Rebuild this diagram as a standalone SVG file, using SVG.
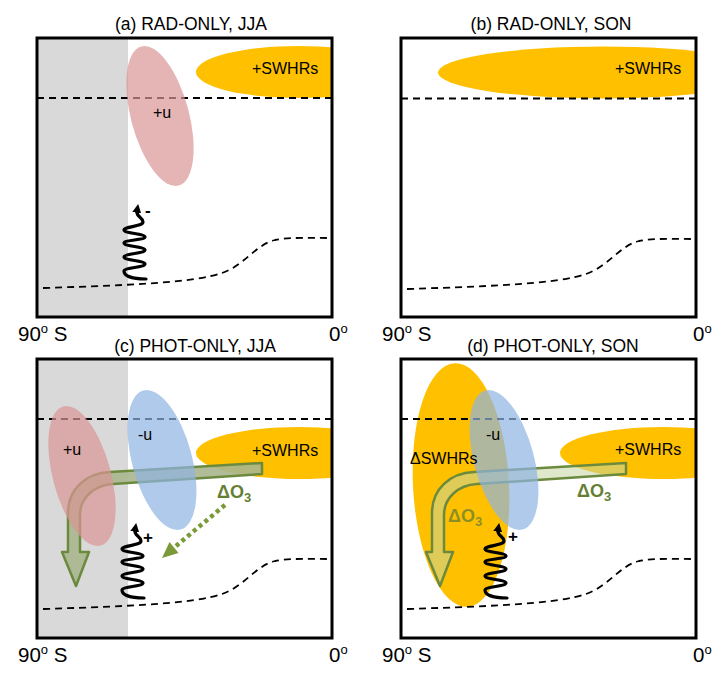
<svg xmlns="http://www.w3.org/2000/svg" width="728" height="676" viewBox="0 0 728 676">
<defs>
<style>
text{font-family:"Liberation Sans",Arial,sans-serif;fill:#000}
.title{font-size:17.5px;text-anchor:middle}
.axis{font-size:20.5px}
.sup{font-size:13px}
.lbl{font-size:16px}
.sign{font-size:17px;font-weight:bold}
.frame{fill:none;stroke:#000;stroke-width:3}
.dash{fill:none;stroke:#000;stroke-width:1.8;stroke-dasharray:7 5}
.gray{fill:#d9d9d9}
.orange{fill:#ffc000}
.pink{fill:#d99694;fill-opacity:0.7}
.blue{fill:#8eb4e3;fill-opacity:0.7}
.wave{fill:none;stroke:#000;stroke-width:3.2;stroke-linecap:round;stroke-linejoin:round}
.o3{font-size:18px;font-weight:bold;fill:#647f32}
.o3s{font-size:13px}
.bandc{fill:#a9b68e;fill-opacity:0.9;stroke:#6b8a3e;stroke-width:2.5;stroke-linejoin:round}
.bandd{fill:#c4d6a0;fill-opacity:0.55;stroke:#6b8a3e;stroke-width:2.5;stroke-linejoin:round}
.dots{fill:none;stroke:#7a9a3a;stroke-width:4.5;stroke-dasharray:4 3.5}
</style>
<clipPath id="clip"><rect x="37" y="38" width="295" height="279"/></clipPath>
<marker id="ah" markerUnits="userSpaceOnUse" markerWidth="9" markerHeight="9" viewBox="0 0 10 10" refX="2" refY="5" orient="auto"><path d="M0,0 L10,5 L0,10 Z" fill="#000"/></marker>
<path id="lowdash" d="M 43 288 C 140 285, 195 282, 222 273 C 245 265, 255 245, 275 240 C 290 237, 310 238, 332 238"/>
<path id="wave" marker-end="url(#ah)" d="M 146 279 C 132 279, 124 276, 124 271 C 124 267.5, 145 267.5, 145 264 C 145 260.5, 124 260.5, 124 257 C 124 253.5, 145 253.5, 145 250 C 145 246.5, 124 246.5, 124 243 C 124 240, 145 240, 145 237 C 145 233.5, 124 233.5, 124 230 C 124 226.5, 143 226.5, 143 222 C 143 217, 136 217, 137 211"/>
<path id="band" d="M 262 142 L 110 151 C 86 152, 68 168, 68 192 L 68 231 L 62 231 L 76 265 L 89 231 L 80 231 L 80 194 C 80 177, 94 164, 113 163 L 262 153 Z"/>
</defs>
<rect width="728" height="676" fill="#fff"/>

<!-- Panel (a) -->
<g id="panel-a">
  <text class="title" x="191" y="30">(a) RAD-ONLY, JJA</text>
  <rect id="a-polar-night" class="gray" x="37" y="38" width="91" height="279"/>
  <g id="a-swhrs"><ellipse class="orange" cx="299" cy="72" rx="103" ry="26" clip-path="url(#clip)"/><text class="lbl" x="252" y="74">+SWHRs</text></g>
  <path class="dash" d="M 37 98 H 332"/>
  <use href="#lowdash" class="dash"/>
  <g id="a-u"><ellipse class="pink" cx="160" cy="116" rx="29" ry="72" transform="rotate(-15 160 116)"/><text class="lbl" x="153" y="118">+u</text></g>
  <g id="a-wave"><use href="#wave" class="wave"/><text class="sign" x="145" y="216">-</text></g>
  <rect class="frame" x="37" y="38" width="295" height="279"/>
  <text class="axis" x="18" y="341">90<tspan class="sup" dy="-8">o</tspan><tspan dy="8"> S</tspan></text>
  <text class="axis" x="329" y="341">0<tspan class="sup" dy="-8">o</tspan></text>
</g>

<!-- Panel (b) -->
<g id="panel-b" transform="translate(364,0)">
  <text class="title" x="187" y="30">(b) RAD-ONLY, SON</text>
  <g id="b-swhrs"><ellipse class="orange" cx="239" cy="72.5" rx="165" ry="26" clip-path="url(#clip)"/><text class="lbl" x="251" y="74">+SWHRs</text></g>
  <path class="dash" d="M 37 98.5 H 332"/>
  <use href="#lowdash" class="dash" transform="translate(0,1)"/>
  <rect class="frame" x="37" y="38" width="295" height="279"/>
  <text class="axis" x="18" y="341">90<tspan class="sup" dy="-8">o</tspan><tspan dy="8"> S</tspan></text>
  <text class="axis" x="329" y="341">0<tspan class="sup" dy="-8">o</tspan></text>
</g>

<!-- Panel (c) -->
<g id="panel-c" transform="translate(0,321)">
  <text class="title" x="195" y="31">(c) PHOT-ONLY, JJA</text>
  <rect id="c-polar-night" class="gray" x="37" y="38" width="91" height="279"/>
  <g id="c-swhrs"><ellipse class="orange" cx="299" cy="132" rx="103" ry="26" clip-path="url(#clip)"/></g>
  <path class="dash" d="M 37 98 H 332"/>
  <use href="#lowdash" class="dash"/>
  <g id="c-o3-band"><use href="#band" class="bandc"/></g>
  <g id="c-plus-u"><ellipse class="pink" cx="82" cy="155" rx="29" ry="72" transform="rotate(-15 82 155)"/><text class="lbl" x="63" y="134">+u</text></g>
  <g id="c-minus-u"><ellipse class="blue" cx="162" cy="139" rx="30" ry="72" transform="rotate(-15 162 139)"/><text class="lbl" x="138" y="119">-u</text></g>
  <text class="lbl" x="252" y="135">+SWHRs</text>
  <g id="c-wave"><use href="#wave" class="wave" transform="translate(-2,-2)"/><text class="sign" x="143" y="222">+</text></g>
  <text class="o3" x="217" y="177">ΔO<tspan class="o3s" dy="4">3</tspan></text>
  <g id="c-connectors">
    <path class="dots" d="M 225 184 L 176 225"/>
    <path d="M 162 237 L 169.5 221 L 178.5 232 Z" fill="#7a9a3a"/>
  </g>
  <rect class="frame" x="37" y="38" width="295" height="279"/>
  <text class="axis" x="18" y="341">90<tspan class="sup" dy="-8">o</tspan><tspan dy="8"> S</tspan></text>
  <text class="axis" x="329" y="341">0<tspan class="sup" dy="-8">o</tspan></text>
</g>

<!-- Panel (d) -->
<g id="panel-d" transform="translate(364,321)">
  <text class="title" x="189" y="31">(d) PHOT-ONLY, SON</text>
  <g id="d-dswhrs"><ellipse class="orange" cx="97" cy="164" rx="48" ry="122" transform="rotate(-3 97 164)"/></g>
  <g id="d-swhrs"><ellipse class="orange" cx="299" cy="132" rx="103" ry="26" clip-path="url(#clip)"/></g>
  <path class="dash" d="M 37 98 H 332"/>
  <use href="#lowdash" class="dash"/>
  <g id="d-o3-band"><use href="#band" class="bandd"/></g>
  <g id="d-minus-u"><ellipse class="blue" cx="140" cy="139" rx="30" ry="72" transform="rotate(-15 140 139)"/><text class="lbl" x="122" y="119">-u</text></g>
  <text class="lbl" x="46" y="143">ΔSWHRs</text>
  <text class="lbl" x="251" y="134">+SWHRs</text>
  <g id="d-wave"><use href="#wave" class="wave" transform="translate(-3,-2)"/><text class="sign" x="144" y="221">+</text></g>
  <text class="o3" x="213" y="176">ΔO<tspan class="o3s" dy="4">3</tspan></text>
  <text class="o3" x="84" y="201" style="fill-opacity:0.75">ΔO<tspan class="o3s" dy="4">3</tspan></text>
  <rect class="frame" x="37" y="38" width="295" height="279"/>
  <text class="axis" x="18" y="341">90<tspan class="sup" dy="-8">o</tspan><tspan dy="8"> S</tspan></text>
  <text class="axis" x="329" y="341">0<tspan class="sup" dy="-8">o</tspan></text>
</g>
</svg>
